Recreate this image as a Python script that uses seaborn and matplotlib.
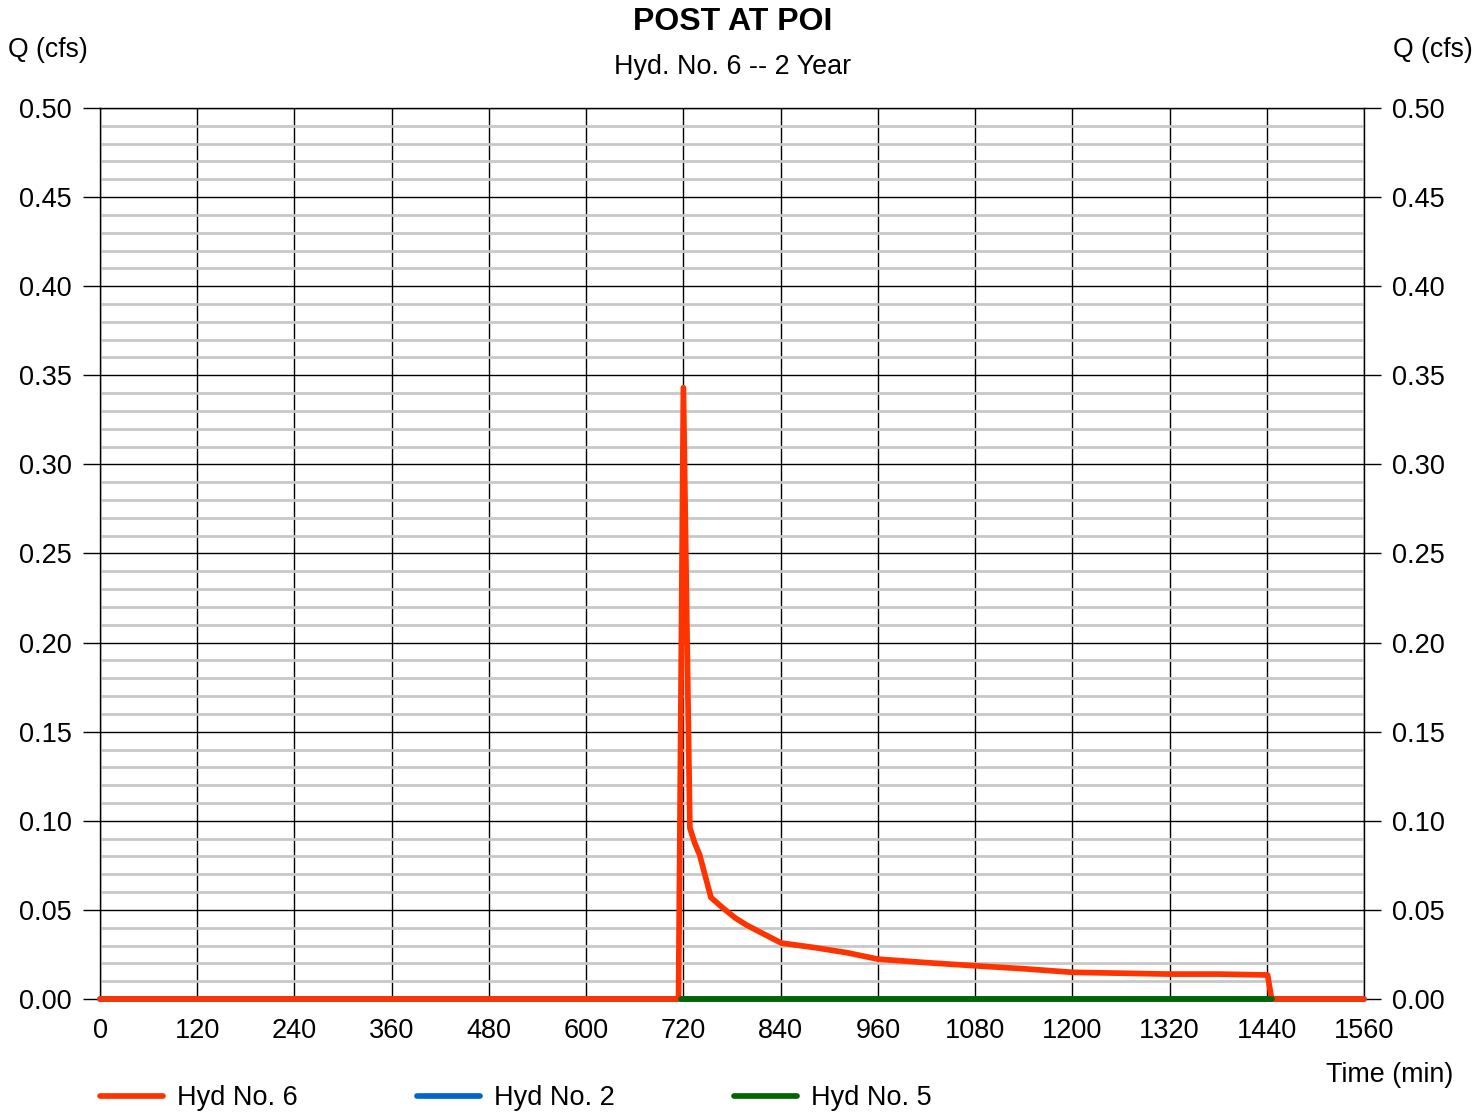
import matplotlib
matplotlib.use('Agg')
import matplotlib.pyplot as plt
from matplotlib.ticker import MultipleLocator
import numpy as np
import pandas as pd
import seaborn as sns

# hydrograph values (time in min, Q in cfs)
hyd6_t = [0, 714, 720, 728, 734, 740, 754, 769, 784, 798, 817, 841, 880, 922, 960,
          1024, 1086, 1140, 1200, 1260, 1320, 1380, 1441, 1446, 1560]
hyd6_q = [0.0, 0.0, 0.343, 0.096, 0.0875, 0.081, 0.057, 0.051, 0.0455, 0.0415, 0.037,
          0.0314, 0.029, 0.026, 0.0224, 0.0203, 0.0185, 0.017, 0.015, 0.0145, 0.014,
          0.014, 0.0135, 0.0, 0.0]
hyd2_t = [0, 1560]
hyd2_q = [0.0, 0.0]
hyd5_t = [717, 1446]
hyd5_q = [0.0, 0.0]

x_ticks = list(range(0, 1561, 120))
y_ticks = [0.00, 0.05, 0.10, 0.15, 0.20, 0.25, 0.30, 0.35, 0.40, 0.45, 0.50]

sns.set_style('white')
plt.rcParams['font.family'] = ['Liberation Sans', 'DejaVu Sans']
plt.rcParams['text.color'] = 'black'
plt.rcParams['xtick.color'] = 'black'
plt.rcParams['ytick.color'] = 'black'

fig = plt.figure(figsize=(14.73, 11.14), dpi=100)
ax = fig.add_axes([0.0679, 0.1032, 0.8581, 0.7999])

red, blue, green = '#ff3300', '#0066cc', '#006600'
lw = 4.1
df2 = pd.DataFrame({'t': hyd2_t, 'q': hyd2_q})
df6 = pd.DataFrame({'t': hyd6_t, 'q': hyd6_q})
df5 = pd.DataFrame({'t': hyd5_t, 'q': hyd5_q})
sns.lineplot(data=df2, x='t', y='q', ax=ax, color=blue, lw=lw, label='Hyd No. 2',
             sort=False, zorder=3, legend=False, clip_on=False)
sns.lineplot(data=df6, x='t', y='q', ax=ax, color=red, lw=lw, label='Hyd No. 6',
             sort=False, zorder=4, legend=False, clip_on=False)
sns.lineplot(data=df5, x='t', y='q', ax=ax, color=green, lw=lw, label='Hyd No. 5',
             sort=False, zorder=5, legend=False, clip_on=False)

ax.set_xlim(0, 1560)
ax.set_ylim(0, 0.5)
ax.set_xticks(x_ticks)
ax.set_yticks(y_ticks)
ax.yaxis.set_minor_locator(MultipleLocator(0.01))
ax.yaxis.set_major_formatter(lambda v, p: '%.2f' % v)
ax.grid(which='minor', axis='y', color='#c8c8c8', lw=2.0, zorder=0)
ax.grid(which='major', axis='y', color='black', lw=1.0, zorder=1)
ax.grid(which='major', axis='x', color='black', lw=1.0, zorder=1)
ax.set_axisbelow(True)
for s in ax.spines.values():
    s.set_color('black')
    s.set_linewidth(1.0)

ax.tick_params(axis='y', which='major', length=12, width=1, color='black',
               labelsize=19.5, pad=8.5, left=True, right=True, labelleft=True, labelright=True)
ax.tick_params(axis='y', which='minor', length=0)
ax.tick_params(axis='x', length=0, labelsize=19.5, pad=14)
ax.set_xlabel('')
ax.set_ylabel('')

fig.text(0.4976, 0.980, 'POST AT POI', ha='center', va='center', fontsize=23, fontweight='bold')
fig.text(0.4976, 0.940, 'Hyd. No. 6 -- 2 Year', ha='center', va='center', fontsize=19.4)
fig.text(0.0326, 0.955, 'Q (cfs)', ha='center', va='center', fontsize=19.2)
fig.text(0.973, 0.955, 'Q (cfs)', ha='center', va='center', fontsize=19.2)
fig.text(0.9436, 0.035, 'Time (min)', ha='center', va='center', fontsize=19.4)

h, l = ax.get_legend_handles_labels()
order = [l.index('Hyd No. 6'), l.index('Hyd No. 2'), l.index('Hyd No. 5')]
fig.legend([h[i] for i in order], [l[i] for i in order], loc='center left',
           bbox_to_anchor=(0.0602, 0.014), ncol=3, frameon=False, fontsize=19.5,
           handlelength=2.35, handletextpad=0.5, columnspacing=4.4, borderaxespad=0)

plt.savefig('out.png', dpi=100)
